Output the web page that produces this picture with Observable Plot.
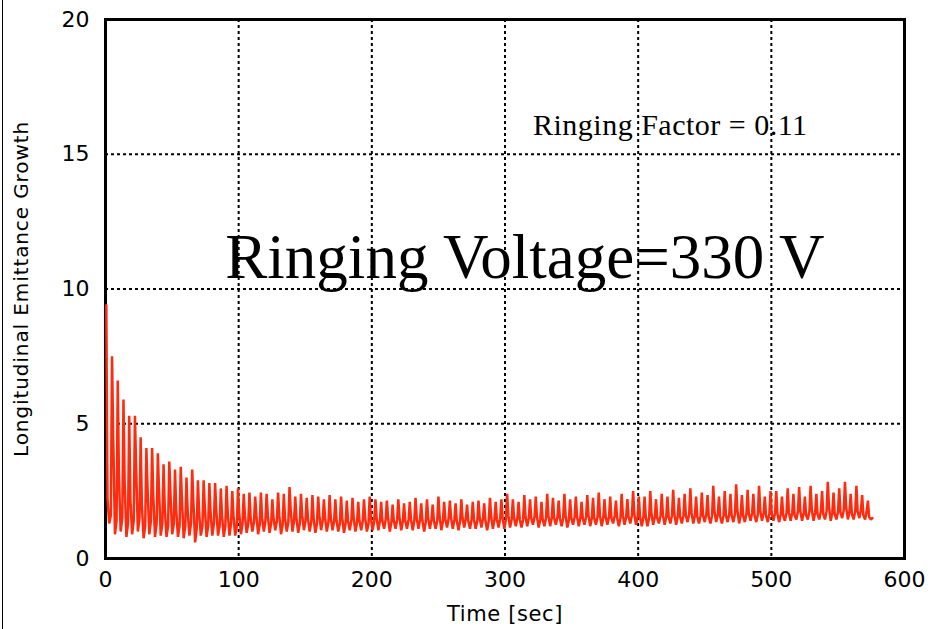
<!DOCTYPE html>
<html>
<head>
<meta charset="utf-8">
<script src="https://cdn.jsdelivr.net/npm/d3@7"></script>
<script src="https://cdn.jsdelivr.net/npm/@observablehq/plot@0.6"></script>
<style>
  html, body { margin: 0; padding: 0; background: #fff; }
  #wrap { position: relative; width: 934px; height: 629px; overflow: hidden; }
  #edge { position: absolute; left: 2px; top: 0; width: 1px; height: 629px; background: #000; }
</style>
</head>
<body>
<div id="wrap"><div id="edge"></div></div>
<script>
// ---- data ----
const xTicks = [0, 100, 200, 300, 400, 500, 600];
const yTicks = [0, 5, 10, 15, 20];
const xLabel = "Time [sec]";
const yLabel = "Longitudinal Emittance Growth";
const factorText = "Ringing Factor = 0.11";
const voltageText = "Ringing Voltage=330 V";

// one oscillation cycle every ~4.3 s: peak, drop, trough, small bump
const firstPeakTime = 0.6;
const cycleSeconds = 4.3;
const midDelay = 0.9;
const troughDelay = 2.2;
const bumpDelay = 3.4;

const peakValues = [
  9.4,7.5,6.6,5.9,5.3,5.3,4.5,4.1,4.1,3.9,3.5,3.6,3.3,3.4,3.0,3.3,2.9,2.9,2.8,2.8,2.6,2.7,2.5,2.6,
  2.4,2.45,2.3,2.45,2.4,2.2,2.45,2.4,2.65,2.3,2.4,2.25,2.35,2.3,2.2,2.35,2.2,2.3,2.15,2.25,2.1,2.2,2.3,
  2.2,2.1,2.15,2.0,2.2,2.05,2.1,2.25,2.05,2.2,2.0,2.3,2.1,2.15,2.05,2.2,2.0,2.1,2.15,2.05,2.25,2.1,2.2,
  2.4,2.2,2.1,2.35,2.2,2.3,2.1,2.4,2.25,2.15,2.4,2.2,2.3,2.1,2.35,2.25,2.45,2.2,2.3,2.15,2.4,2.2,2.5,2.3,
  2.3,2.5,2.2,2.4,2.3,2.55,2.25,2.4,2.6,2.3,2.45,2.35,2.7,2.3,2.5,2.4,2.75,2.35,2.55,2.4,2.7,2.3,2.5,
  2.5,2.3,2.6,2.4,2.65,2.3,2.7,2.4,2.5,2.85,2.45,2.6,2.85,2.4,2.7,2.35,2.15
];
const midValues = [
  2.2,4.5,3.0,2.8,2.2,3.4,2.0,2.6,2.3,2.5,1.9,2.4,1.8,2.2,1.8,2.1,1.7,1.9,1.7,1.8,1.6,1.7,1.6,1.7,
  1.6,1.5,1.6,1.5,1.6,1.5,1.6,1.5,1.8,1.5,1.6,1.5,1.5,1.6,1.5,1.5,1.4,1.5,1.4,1.5,1.4,1.5,1.5,
  1.5,1.4,1.5,1.4,1.5,1.4,1.45,1.5,1.4,1.5,1.4,1.55,1.45,1.5,1.4,1.5,1.4,1.45,1.5,1.4,1.55,1.45,1.5,
  1.6,1.5,1.45,1.55,1.5,1.55,1.45,1.6,1.5,1.5,1.6,1.5,1.55,1.5,1.6,1.5,1.6,1.55,1.5,1.5,1.6,1.55,1.65,1.55,
  1.55,1.65,1.5,1.6,1.55,1.65,1.55,1.6,1.7,1.55,1.6,1.55,1.75,1.55,1.6,1.6,1.8,1.6,1.65,1.6,1.75,1.6,1.65,
  1.65,1.6,1.7,1.6,1.75,1.6,1.8,1.65,1.65,1.9,1.65,1.7,1.9,1.65,1.75,1.6,1.55
];
const troughValues = [
  1.3,0.9,1.0,0.8,0.9,1.0,0.75,0.9,0.8,0.85,0.8,0.9,0.8,0.75,0.85,0.6,0.85,0.8,0.85,0.85,0.8,0.85,0.85,0.9,
  0.95,1.0,0.9,1.0,0.95,1.05,0.9,1.0,1.0,0.95,1.05,1.0,0.95,1.05,1.0,1.05,1.0,0.95,1.05,1.0,1.05,1.0,1.05,
  1.05,1.1,1.0,1.1,1.05,1.1,1.05,1.1,1.0,1.1,1.1,1.05,1.15,1.1,1.05,1.15,1.1,1.1,1.15,1.05,1.1,1.15,1.1,
  1.15,1.2,1.15,1.2,1.25,1.15,1.2,1.2,1.25,1.2,1.15,1.25,1.2,1.25,1.2,1.25,1.2,1.25,1.3,1.2,1.25,1.3,1.25,1.2,
  1.2,1.25,1.3,1.25,1.3,1.25,1.3,1.35,1.3,1.3,1.35,1.3,1.35,1.3,1.35,1.35,1.3,1.35,1.4,1.35,1.4,1.35,1.4,
  1.35,1.4,1.4,1.45,1.4,1.45,1.4,1.45,1.45,1.4,1.45,1.5,1.45,1.45,1.5,1.45,1.45
];
const bumpValues = [
  1.6,1.4,1.5,1.3,1.4,1.5,1.2,1.4,1.3,1.3,1.2,1.3,1.2,1.2,1.3,1.1,1.2,1.2,1.3,1.2,1.2,1.3,1.2,1.3,
  1.3,1.35,1.25,1.4,1.3,1.4,1.25,1.35,1.4,1.3,1.4,1.35,1.3,1.4,1.35,1.4,1.3,1.3,1.4,1.35,1.4,1.3,1.4,
  1.4,1.45,1.35,1.45,1.4,1.45,1.4,1.45,1.35,1.45,1.4,1.4,1.5,1.45,1.4,1.5,1.45,1.4,1.5,1.4,1.45,1.5,1.45,
  1.45,1.5,1.45,1.5,1.55,1.45,1.5,1.5,1.55,1.5,1.45,1.55,1.5,1.55,1.5,1.55,1.5,1.55,1.6,1.5,1.55,1.6,1.55,1.5,
  1.5,1.55,1.6,1.55,1.6,1.55,1.6,1.65,1.6,1.6,1.65,1.6,1.65,1.6,1.65,1.65,1.6,1.65,1.7,1.65,1.7,1.65,1.7,
  1.65,1.7,1.7,1.75,1.7,1.75,1.7,1.75,1.75,1.7,1.75,1.8,1.75,1.75,1.8,1.75,1.5
];

// ---- build the series table ----
const n = Math.min(peakValues.length, midValues.length, troughValues.length, bumpValues.length);
const series = [];
for (let i = 0; i < n; i++) {
  const t0 = firstPeakTime + i * cycleSeconds;
  series.push({t: t0, v: peakValues[i]});
  series.push({t: t0 + midDelay, v: midValues[i]});
  series.push({t: t0 + troughDelay, v: troughValues[i]});
  series.push({t: t0 + bumpDelay, v: bumpValues[i]});
}

const tickFont = "'DejaVu Sans', Verdana, sans-serif";
const serif = "'Liberation Serif', 'Times New Roman', serif";

const chart = Plot.plot({
  width: 934,
  height: 629,
  marginLeft: 105,
  marginRight: 30,
  marginTop: 19,
  marginBottom: 71,
  style: {fontFamily: tickFont, background: "#fff", color: "#000"},
  x: {domain: [0, 600], ticks: xTicks},
  y: {domain: [0, 20], ticks: yTicks},
  marks: [
    Plot.gridX(xTicks.slice(1, -1), {stroke: "#000", strokeOpacity: 1, strokeWidth: 2, strokeDasharray: "3,3"}),
    Plot.gridY(yTicks.slice(1, -1), {stroke: "#000", strokeOpacity: 1, strokeWidth: 2, strokeDasharray: "3,3"}),
    Plot.frame({stroke: "#000", strokeWidth: 3}),
    Plot.line(series, {x: "t", y: "v", stroke: "#ff2b0e", strokeWidth: 2.5, strokeLinejoin: "miter"}),
    Plot.axisX(xTicks, {tickSize: 0, tickPadding: 13, fontSize: 22, label: null}),
    Plot.axisY(yTicks, {tickSize: 0, tickPadding: 16, fontSize: 22, label: null}),
    Plot.text([xLabel], {frameAnchor: "bottom", dy: 62, fontSize: 21, fill: "#000"}),
    Plot.text([yLabel], {frameAnchor: "left", textAnchor: "middle", dx: -84, rotate: -90, fontSize: 20, fill: "#000"}),
    Plot.text([factorText], {x: 321, y: 15.7, textAnchor: "start", lineAnchor: "bottom", fontFamily: serif, fontSize: 30, fill: "#000"}),
    Plot.text([voltageText], {x: 90, y: 10.4, textAnchor: "start", lineAnchor: "bottom", fontFamily: serif, fontSize: 63, fill: "#000"})
  ]
});
// slight letter spacing to match the reference's wider text
d3.select(chart).selectAll("text").each(function() {
  const s = this.textContent;
  if (s === yLabel) this.style.letterSpacing = "0.9px";
  if (s === factorText) this.style.letterSpacing = "0.5px";
  if (s === xLabel) this.style.letterSpacing = "0.6px";
});
document.getElementById("wrap").appendChild(chart);
</script>
</body>
</html>
